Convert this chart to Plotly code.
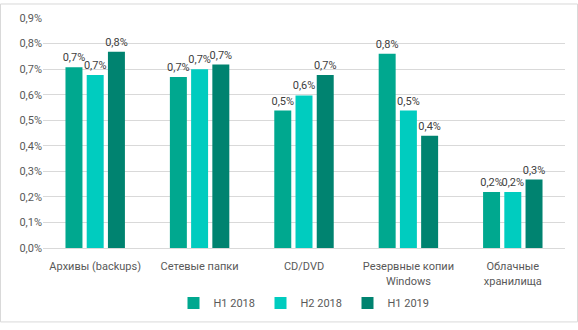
import plotly.graph_objects as go

categories = ["Архивы (backups)", "Сетевые папки", "CD/DVD", "Резервные копии<br>Windows", "Облачные<br>хранилища"]
series_names = ["H1 2018", "H2 2018", "H1 2019"]
h1_2018 = [0.707, 0.669, 0.538, 0.760, 0.219]
h2_2018 = [0.677, 0.699, 0.597, 0.538, 0.219]
h1_2019 = [0.768, 0.718, 0.677, 0.439, 0.268]
colors = ["#00A88F", "#00CCBF", "#008370"]

W, H = 578, 330
ml, mr, mt, mb = 43, 13, 15, 77
pw, ph = W - ml - mr, H - mt - mb
FONT = "Roboto, Liberation Sans, sans-serif"

fig = go.Figure()
for name, vals, col in zip(series_names, [h1_2018, h2_2018, h1_2019], colors):
    fig.add_trace(go.Bar(
        x=categories, y=vals, name=name, marker=dict(color=col, line=dict(width=0)),
        texttemplate="%{y:.1f}%", textposition="outside", cliponaxis=False,
        constraintext="none", textangle=0,
        textfont=dict(color="#404040", size=11, family=FONT),
    ))

fig.update_layout(
    width=W, height=H, margin=dict(l=ml, r=mr, t=mt, b=mb),
    paper_bgcolor="white", plot_bgcolor="white",
    separators=", ",
    barmode="group", bargap=0.39, bargroupgap=0.2,
    font=dict(family=FONT, size=11, color="#595959"),
    yaxis=dict(range=[0, 0.9], dtick=0.1, tickformat=".1f", ticksuffix="%",
               gridcolor="#D9D9D9", gridwidth=1, zeroline=False, showline=False,
               tickfont=dict(size=11, color="#595959"), ticks="", ticklen=0),
    xaxis=dict(showline=True, linecolor="#D9D9D9", linewidth=1, ticks="",
               ticklabelstandoff=8,
               tickfont=dict(size=11, color="#595959")),
    legend=dict(orientation="h", x=0.5, xanchor="center", y=(mt + ph - 310) / ph, yanchor="middle",
                font=dict(size=11, color="#595959"), traceorder="normal",
                itemwidth=30, entrywidth=42, entrywidthmode="pixels"),
    showlegend=True,
)
fig.add_shape(type="rect", xref="paper", yref="paper",
              x0=(0.5 - ml) / pw, x1=(W - 0.5 - ml) / pw,
              y0=(mt + ph - (H - 0.5)) / ph, y1=(mt + ph - 0.5) / ph,
              line=dict(color="#D9D9D9", width=1), fillcolor="rgba(0,0,0,0)", layer="below")
fig.write_html("out.html")
